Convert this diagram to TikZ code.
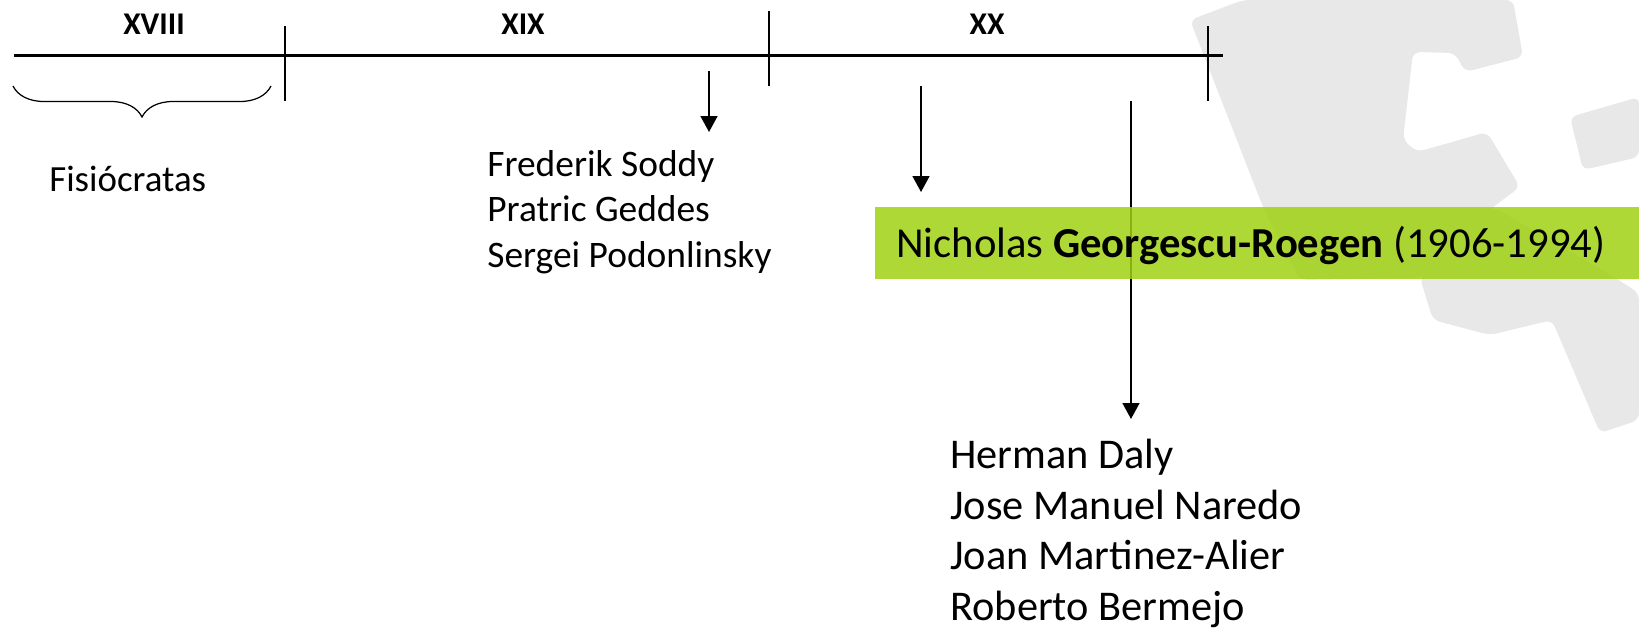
\documentclass[tikz,border=0pt]{standalone}
\usepackage{fontspec}
\setmainfont{Carlito}
\usetikzlibrary{decorations.pathreplacing, arrows.meta}
\definecolor{barGreen}{HTML}{A0D113}
\definecolor{markGray}{HTML}{E8E8E8}
\tikzset{
	century/.style={font=\fontsize{18}{18}\selectfont\bfseries, anchor=base, inner sep=0pt},
	timeline/.style={line width=1.2pt},
	tick/.style={line width=1.1pt},
	pointer/.style={line width=1.1pt, -{Triangle[length=9pt,width=9.5pt]}}
}
\begin{document}
\begin{tikzpicture}[x=0.02cm,y=-0.02cm]
	\useasboundingbox (0,0) rectangle (1639,630);
	%watermark
	\fill[markGray,rounded corners=4pt] (1190,20) -- (1243,0) -- (1513,0) -- (1523,57) -- (1465,72) -- (1455,53) -- (1413,52) -- (1403,140) -- (1417,152) -- (1487,132) -- (1520,187) -- (1493,207) -- (1420,278) -- (1433,320) -- (1490,335) -- (1552,320) -- (1600,433) -- (1639,420) -- (1639,293) -- (1617,279) -- (1493,207) -- (1420,278) -- (1300,280) -- (1263,207) -- cycle;
	\fill[markGray,rounded corners=4pt] (1570,117) -- (1639,97) -- (1639,157) -- (1583,170) -- cycle;
	%timeline
	\coordinate (lineL) at (14,55.5);
	\coordinate (lineR) at (1223,55.5);
	\draw[timeline] (lineL) -- (lineR);
	\draw[tick] (285,26) -- (285,101);
	\draw[tick] (769,11) -- (769,86);
	\draw[tick] (1208,26) -- (1208,101);
	%century labels
	\node[century] (xviii) at (154,34) {XVIII};
	\node[century] (xix) at (523,34) {XIX};
	\node[century] (xx) at (987,34) {XX};
	%brace
	\coordinate (braceL) at (13,86);
	\coordinate (braceR) at (271,86);
	\draw[line width=0.7pt, decorate, decoration={brace, mirror, amplitude=0.62cm}] (braceL) -- (braceR);
	%pointers
	\coordinate (fromA) at (709,71);
	\coordinate (toA) at (709,132);
	\coordinate (fromB) at (921,86);
	\coordinate (toB) at (921,192);
	\coordinate (fromC) at (1131,101);
	\coordinate (toC) at (1131,419);
	\draw[pointer] (fromA) -- (toA);
	\draw[pointer] (fromB) -- (toB);
	\draw[pointer] (fromC) -- (toC);
	%green bar
	\fill[barGreen, fill opacity=0.85] (875,207) rectangle (1639,279);
	%names
	\node[font=\fontsize{24.3}{24.3}\selectfont, anchor=base west, inner sep=0pt] (nicholas) at (896,257) {Nicholas \textbf{Georgescu-Roegen} (1906-1994)};
	\node[font=\fontsize{21}{21}\selectfont, anchor=base west, inner sep=0pt] (fisio) at (49,191) {Fisiócratas};
	\node[font=\fontsize{21.3}{25.9}\selectfont, align=left, anchor=north west, inner sep=0pt] (grupoA) at (487,150) {Frederik Soddy\\Pratric Geddes\\Sergei Podonlinsky};
	\node[font=\fontsize{24.1}{28.8}\selectfont, align=left, anchor=north west, inner sep=0pt] (grupoB) at (950,439) {Herman Daly\\Jose Manuel Naredo\\Joan Martinez-Alier\\Roberto Bermejo};
\end{tikzpicture}
\end{document}
